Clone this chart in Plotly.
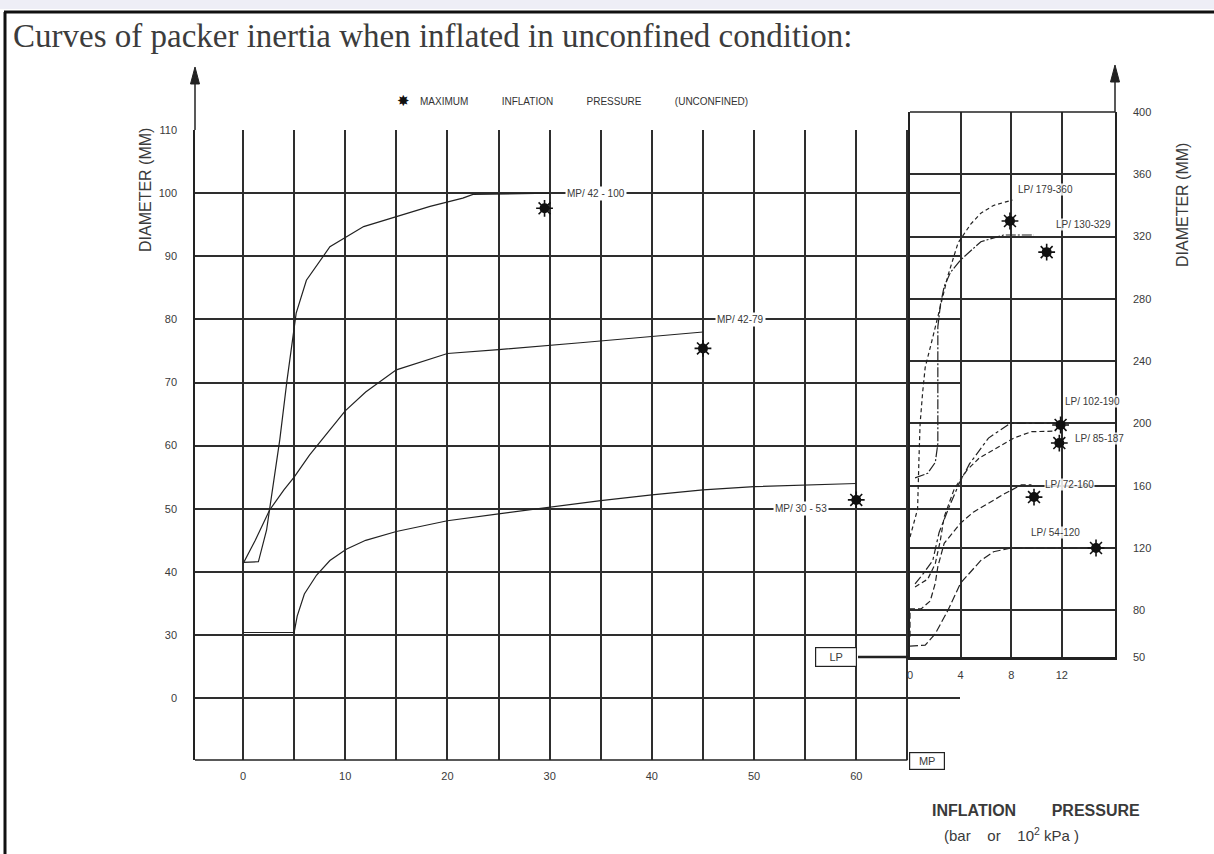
import plotly.graph_objects as go

W, H = 1214, 854

# ---------------- data: MP (left panel) ----------------
mp_42_100_x = [0, 1.5, 2.3, 2.8, 3.6, 4.3, 5.2, 6.2, 8.5, 11.8, 15, 18.3, 21.5, 22.5, 30]
mp_42_100_y = [41.5, 41.6, 46.6, 52, 61, 70.3, 81, 86.2, 91.5, 94.7, 96.3, 97.9, 99.2, 99.8, 100]
mp_42_79_x = [0, 1.2, 2.6, 4, 5, 6.5, 8, 10, 12, 15, 20, 25, 33, 40, 45]
mp_42_79_y = [41.3, 45, 49.8, 53, 55, 58.5, 61.5, 65.5, 68.5, 72, 74.6, 75.2, 76.3, 77.3, 78]
mp_30_53_x = [0, 5, 5.3, 6, 7.2, 8.5, 10.1, 12, 15, 20, 25, 30, 35, 40, 45, 50, 55, 60]
mp_30_53_y = [30.4, 30.4, 33, 36.5, 39.5, 41.8, 43.6, 45, 46.4, 48.1, 49.2, 50.3, 51.3, 52.2, 53, 53.5, 53.7, 54.0]
mp_max_x = [29.5, 45, 60]
mp_max_y = [97.6, 75.4, 51.4]
mp_labels = ["MP/ 42 - 100", "MP/ 42-79", "MP/ 30 - 53"]
mp_label_x = [34.5, 48.7, 54.6]
mp_label_y = [100, 80, 50]

# ---------------- data: LP (right panel) ----------------
lp_179_360_x = [0, 0.6, 0.7, 0.8, 1.0, 1.2, 1.7, 2.2, 3.0, 3.8, 4.8, 5.6, 6.6, 8.1]
lp_179_360_y = [127, 145, 175, 200, 220, 236, 252, 268, 295, 316, 328, 335, 340, 343.5]
lp_130_329_x = [0.4, 1.4, 2.0, 2.2, 2.2, 2.2, 2.4, 2.7, 3.2, 4.0, 5.6, 7.4, 9.8]
lp_130_329_y = [165, 168, 175, 187, 228, 262, 276, 288, 297, 305, 316.7, 321, 321]
lp_102_190_x = [0.4, 1.0, 1.8, 2.3, 3.1, 3.9, 4.7, 5.6, 6.2, 7.9, 11.8]
lp_102_190_y = [97, 103, 112, 130, 146.5, 161.7, 174, 184, 190.6, 200, 200]
lp_85_187_x = [0.4, 1.4, 2.0, 2.4, 2.7, 3.5, 4.5, 5.5, 6.6, 8.2, 9.6, 11.3]
lp_85_187_y = [95, 100, 110, 125, 140, 158, 170, 178, 183, 190.6, 194.7, 195]
lp_72_160_x = [0, 0, 0.9, 1.6, 2.0, 2.2, 2.7, 4.0, 5.0, 6.2, 7.5, 8.8, 9.6]
lp_72_160_y = [63, 81, 81, 86, 97.5, 108, 123, 136, 143, 149, 155, 160.5, 160.5]
lp_54_120_x = [0, 1.2, 2.0, 3.0, 4.0, 5.0, 5.6, 6.6, 8.0, 14.7]
lp_54_120_y = [57, 57.6, 65, 80, 97.5, 107, 112, 117.6, 120, 120]
lp_max_x = [7.9, 10.8, 11.9, 11.8, 9.8, 14.7]
lp_max_y = [330, 310, 199, 187.4, 152.7, 120]
lp_labels = ["LP/ 179-360", "LP/ 130-329", "LP/ 102-190", "LP/ 85-187", "LP/ 72-160", "LP/ 54-120"]
lp_label_x = [10.7, 13.7, 14.4, 15.0, 12.6, 11.5]
lp_label_y = [350, 328, 214, 190.6, 161, 130]

# ---------------- ticks ----------------
mp_tick_vals = [0, 5, 10, 15, 20, 25, 30, 35, 40, 45, 50, 55, 60, 65]
mp_tick_text = ["0", "", "10", "", "20", "", "30", "", "40", "", "50", "", "60", ""]
mp_dia_vals = [20, 30, 40, 50, 60, 70, 80, 90, 100, 110]
mp_dia_text = ["0", "30", "40", "50", "60", "70", "80", "90", "100", "110"]
lp_tick_vals = [0, 4, 8, 12]
lp_tick_text = ["0", "4", "8", "12"]
lp_dia_vals = [50, 80, 120, 160, 200, 240, 280, 320, 360, 400]
lp_dia_text = ["50", "80", "120", "160", "200", "240", "280", "320", "360", "400"]

INK = "#222222"
GRID = "#2e2e2e"
TXT = "#3a3a3a"
FONT = "Liberation Sans Narrow, Liberation Sans, Arial, sans-serif"

def px_x(p):
    return p / W

def px_y(p):
    return 1 - p / H

# panel geometry (pixel positions)
L_X0, L_X1, L_Y0, L_Y1 = 195, 960, 130, 760
MP_RANGE = [-4.7, 70.15]
MPD_RANGE = [10.2, 110]
R_X0, R_X1, R_Y0, R_Y1 = 910, 1115, 112, 657
LP_RANGE = [0, 16.2]
LPD_RANGE = [50, 400]

fig = go.Figure()

def line(x, y, xa, ya, dash="solid", width=1.2):
    fig.add_trace(go.Scatter(x=x, y=y, mode="lines", xaxis=xa, yaxis=ya,
                             line=dict(color=INK, width=width, dash=dash),
                             showlegend=False, hoverinfo="skip"))

def stars(x, y, xa, ya):
    fig.add_trace(go.Scatter(x=x, y=y, mode="markers", xaxis=xa, yaxis=ya,
                             marker=dict(symbol="circle", size=10, color="#111"),
                             showlegend=False, hoverinfo="skip"))
    fig.add_trace(go.Scatter(x=x, y=y, mode="markers", xaxis=xa, yaxis=ya,
                             marker=dict(symbol="asterisk-open", size=14, color="#111",
                                         line=dict(color="#111", width=1.6)),
                             showlegend=False, hoverinfo="skip"))

line(mp_42_100_x, mp_42_100_y, "x", "y")
line(mp_42_79_x, mp_42_79_y, "x", "y")
line(mp_30_53_x, mp_30_53_y, "x", "y")
stars(mp_max_x, mp_max_y, "x", "y")

line(lp_179_360_x, lp_179_360_y, "x2", "y2", dash="4px,3px")
line(lp_130_329_x, lp_130_329_y, "x2", "y2", dash="10px,2px,2px,2px")
line(lp_102_190_x, lp_102_190_y, "x2", "y2", dash="dashdot")
line(lp_85_187_x, lp_85_187_y, "x2", "y2", dash="5px,3px")
line(lp_72_160_x, lp_72_160_y, "x2", "y2", dash="6px,3px")
line(lp_54_120_x, lp_54_120_y, "x2", "y2", dash="8px,3px")
stars(lp_max_x, lp_max_y, "x2", "y2")

for t, xv, yv in zip(mp_labels, mp_label_x, mp_label_y):
    fig.add_annotation(x=xv, y=yv, xref="x", yref="y", text=t, showarrow=False,
                       xanchor="center", yanchor="middle",
                       font=dict(family=FONT, size=10, color=TXT), bgcolor="white",
                       borderpad=1)
for t, xv, yv in zip(lp_labels, lp_label_x, lp_label_y):
    fig.add_annotation(x=xv, y=yv, xref="x2", yref="y2", text=t, showarrow=False,
                       xanchor="center", yanchor="middle",
                       font=dict(family=FONT, size=10, color=TXT), bgcolor="rgba(255,255,255,0.85)",
                       borderpad=0)

tickfont = dict(family=FONT, size=11, color=TXT)
fig.update_layout(
    width=W, height=H, margin=dict(l=0, r=0, t=0, b=0),
    paper_bgcolor="white", plot_bgcolor="rgba(0,0,0,0)",
    xaxis=dict(domain=[px_x(L_X0), px_x(L_X1)], range=MP_RANGE, tickmode="array",
               tickvals=mp_tick_vals, ticktext=mp_tick_text, showgrid=True,
               gridcolor=GRID, gridwidth=1.5, zeroline=False, showline=False,
               ticks="", tickfont=tickfont, ticklabelstandoff=8, automargin=False, fixedrange=True),
    yaxis=dict(domain=[px_y(L_Y1), px_y(L_Y0)], range=MPD_RANGE, tickmode="array",
               tickvals=mp_dia_vals, ticktext=mp_dia_text, showgrid=True,
               gridcolor=GRID, gridwidth=1.5, zeroline=False, showline=True,
               linecolor=INK, linewidth=1.5, ticks="", tickfont=tickfont,
               ticklabelstandoff=14, automargin=False, fixedrange=True),
    xaxis2=dict(domain=[px_x(R_X0), px_x(R_X1)], range=LP_RANGE, anchor="y2",
                tickmode="array", tickvals=lp_tick_vals, ticktext=lp_tick_text,
                showgrid=True, gridcolor=GRID, gridwidth=1.5, zeroline=False,
                showline=True, linecolor=INK, linewidth=2.5, ticks="",
                tickfont=tickfont, ticklabelstandoff=6, automargin=False, fixedrange=True),
    yaxis2=dict(domain=[px_y(R_Y1), px_y(R_Y0)], range=LPD_RANGE, anchor="x2",
                side="right", tickmode="array", tickvals=lp_dia_vals, ticktext=lp_dia_text,
                showgrid=True, gridcolor=GRID, gridwidth=1.5, zeroline=False,
                showline=True, mirror=True, linecolor=INK, linewidth=1.5, ticks="",
                tickfont=tickfont, ticklabelstandoff=14, automargin=False, fixedrange=True),
)

# MP axis line (ends at the MP box, x = 65)
frac65 = (65 - MP_RANGE[0]) / (MP_RANGE[1] - MP_RANGE[0])
fig.add_shape(type="line", xref="x domain", yref="y domain", x0=0, x1=frac65, y0=0, y1=0,
              line=dict(color=INK, width=1.5))
# LP panel top border
fig.add_shape(type="line", xref="x2 domain", yref="y2 domain", x0=0, x1=1, y0=1, y1=1,
              line=dict(color=INK, width=1.5))
# LP axis extension to the LP box
fig.add_shape(type="line", xref="paper", yref="paper", x0=px_x(858), x1=px_x(R_X0),
              y0=px_y(R_Y1), y1=px_y(R_Y1), line=dict(color=INK, width=2.5))

# axis arrows (shaft + filled head)
def arrow(xp, y_from, y_tip):
    fig.add_shape(type="line", xref="paper", yref="paper", x0=px_x(xp), x1=px_x(xp),
                  y0=px_y(y_from), y1=px_y(y_tip + 14), line=dict(color=INK, width=1.5))
    path = "M {:.5f} {:.5f} L {:.5f} {:.5f} L {:.5f} {:.5f} Z".format(
        px_x(xp), px_y(y_tip), px_x(xp - 4.5), px_y(y_tip + 17), px_x(xp + 4.5), px_y(y_tip + 17))
    fig.add_shape(type="path", xref="paper", yref="paper", path=path,
                  fillcolor=INK, line=dict(color=INK, width=1))

arrow(L_X0, L_Y0, 67)
arrow(R_X1, R_Y0, 65)

def note(px, py, text, size, family=FONT, color=TXT, angle=0, xanchor="center", **kw):
    fig.add_annotation(xref="paper", yref="paper", x=px_x(px), y=px_y(py), text=text,
                       showarrow=False, xanchor=xanchor, yanchor="middle", textangle=angle,
                       font=dict(family=family, size=size, color=color), **kw)

# boxes
note(836, 657, "LP", 11, bordercolor=INK, borderwidth=1.2, bgcolor="white", borderpad=3, width=34)
note(927, 761, "MP", 11, bordercolor=INK, borderwidth=1.2, bgcolor="white", borderpad=2, width=30)

# titles and labels
note(11, 36, "Curves of packer inertia when inflated in unconfined condition:", 33,
     family="Liberation Serif, Times New Roman, serif", color="#3c3c3c", xanchor="left")
note(404, 101, "✸", 15, family="DejaVu Sans", color="#111")
sp = "&nbsp;" * 12
note(418, 101, "MAXIMUM" + sp + "INFLATION" + sp + "PRESSURE" + sp + "(UNCONFINED)", 10,
     color="#333", xanchor="left")
note(145, 190, "DIAMETER (MM)", 16, angle=-90)
note(1183, 205, "DIAMETER (MM)", 16, angle=-90)
note(1036, 810, "<b>INFLATION" + "&nbsp;" * 8 + "PRESSURE</b>", 16)
note(1011, 834, "(bar&nbsp;&nbsp;&nbsp;&nbsp;or&nbsp;&nbsp;&nbsp;&nbsp;10<sup>2</sup> kPa )", 15)

# page frame
fig.add_shape(type="rect", xref="paper", yref="paper", x0=0, x1=1, y0=px_y(9), y1=1,
              line=dict(width=0), fillcolor="#eeeef6", layer="below")
fig.add_shape(type="line", xref="paper", yref="paper", x0=px_x(5), x1=px_x(5),
              y0=0, y1=px_y(12), line=dict(color="#111", width=3))
fig.add_shape(type="line", xref="paper", yref="paper", x0=px_x(4), x1=1,
              y0=px_y(12), y1=px_y(12), line=dict(color="#111", width=3))

fig.write_html("out.html", config={"displayModeBar": False},
               post_script="document.body.style.margin='0';document.body.style.overflow='hidden';")
